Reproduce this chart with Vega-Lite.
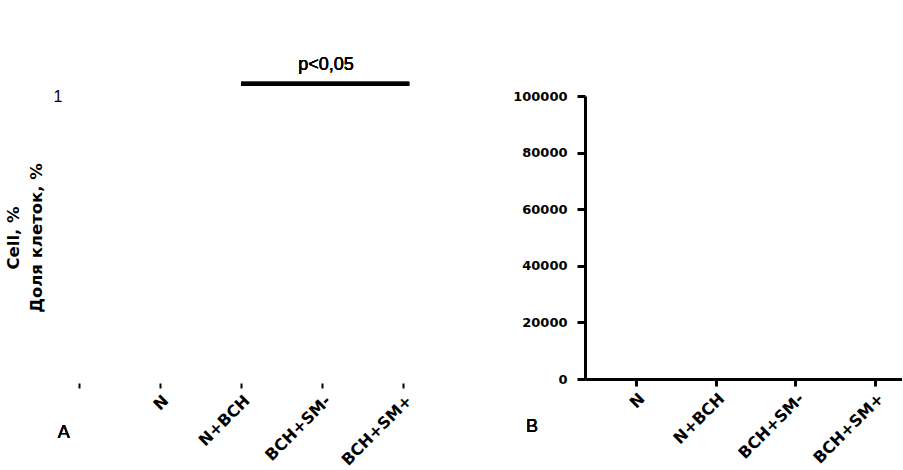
{
  "$schema": "https://vega.github.io/schema/vega-lite/v6.json",
  "padding": {"left": 5, "top": 55, "right": 0, "bottom": 0},
  "background": "white",
  "config": {
    "view": {"stroke": null},
    "font": "DejaVu Sans",
    "axis": {"grid": false, "labelColor": "black", "domainColor": "black", "tickColor": "black", "titleColor": "black", "labelFont": "DejaVu Sans", "titleFont": "DejaVu Sans"}
  },
  "spacing": 95,
  "hconcat": [
    {
      "width": 352,
      "height": 283,
      "data": {"values": [
        {"group": "N", "share": 0},
        {"group": "N+BCH", "share": 0},
        {"group": "BCH+SM-", "share": 0},
        {"group": "BCH+SM+", "share": 0}
      ]},
      "layer": [
        {
          "mark": {"type": "bar", "color": "black"},
          "encoding": {
            "x": {"field": "group", "type": "nominal", "sort": null,
              "scale": {"type": "point", "domain": [" ", "N", "N+BCH", "BCH+SM-", "BCH+SM+"], "padding": 0.17},
              "axis": {"title": null, "domain": false, "ticks": true, "tickSize": 5, "tickWidth": 2, "offset": 4, "labelAngle": -45, "labelFontWeight": "bold", "labelFontSize": 16, "labelPadding": 4}},
            "y": {"field": "share", "type": "quantitative",
              "scale": {"domain": [0, 1]},
              "axis": {"values": [1], "format": "d", "domain": false, "ticks": false, "labelFont": "Liberation Sans", "labelFontSize": 16, "labelPadding": 3,
                "title": ["Cell, %", "Доля клеток, %"], "titleFontWeight": "bold", "titleFontSize": 16.5, "titleLineHeight": 23, "titlePadding": 9}}
          }
        },
        {
          "mark": {"type": "rule", "strokeWidth": 4, "color": "black", "x2Offset": 6},
          "encoding": {"x": {"datum": "N+BCH"}, "x2": {"datum": "BCH+SM+"}, "y": {"datum": 1.043}}
        },
        {
          "mark": {"type": "text", "font": "Liberation Sans", "fontSize": 18, "fontWeight": "normal", "color": "black", "dx": 4},
          "encoding": {"x": {"datum": "BCH+SM-"}, "y": {"datum": 1.11}, "text": {"value": "p<0,05"}}
        },
        {
          "mark": {"type": "text", "font": "Liberation Sans", "fontSize": 18, "fontWeight": "normal", "color": "black", "dx": -15},
          "encoding": {"x": {"datum": " "}, "y": {"datum": -0.19}, "text": {"value": "A"}}
        }
      ]
    },
    {
      "width": 317,
      "height": 283,
      "data": {"values": [
        {"group": "N", "value": 0},
        {"group": "N+BCH", "value": 0},
        {"group": "BCH+SM-", "value": 0},
        {"group": "BCH+SM+", "value": 0}
      ]},
      "layer": [
        {
          "mark": {"type": "bar", "color": "black"},
          "encoding": {
            "x": {"field": "group", "type": "nominal", "sort": null,
              "scale": {"type": "point", "domain": ["N", "N+BCH", "BCH+SM-", "BCH+SM+"], "padding": 0.49, "align": 0.654},
              "axis": {"title": null, "domainWidth": 3, "tickWidth": 3, "tickSize": 7, "labelAngle": -45, "labelFontWeight": "bold", "labelFontSize": 16, "labelPadding": 4}},
            "y": {"field": "value", "type": "quantitative",
              "scale": {"domain": [0, 100000]},
              "axis": {"values": [0, 20000, 40000, 60000, 80000, 100000], "format": "d", "domainWidth": 3, "tickWidth": 3, "tickSize": 8, "labelFontWeight": "bold", "labelFontSize": 13, "labelPadding": 10, "title": null}}
          }
        },
        {
          "mark": {"type": "text", "font": "Liberation Sans", "fontSize": 18, "fontWeight": "normal", "color": "black", "dx": -104},
          "encoding": {"x": {"datum": "N"}, "y": {"datum": -17000}, "text": {"value": "B"}}
        }
      ]
    }
  ]
}
